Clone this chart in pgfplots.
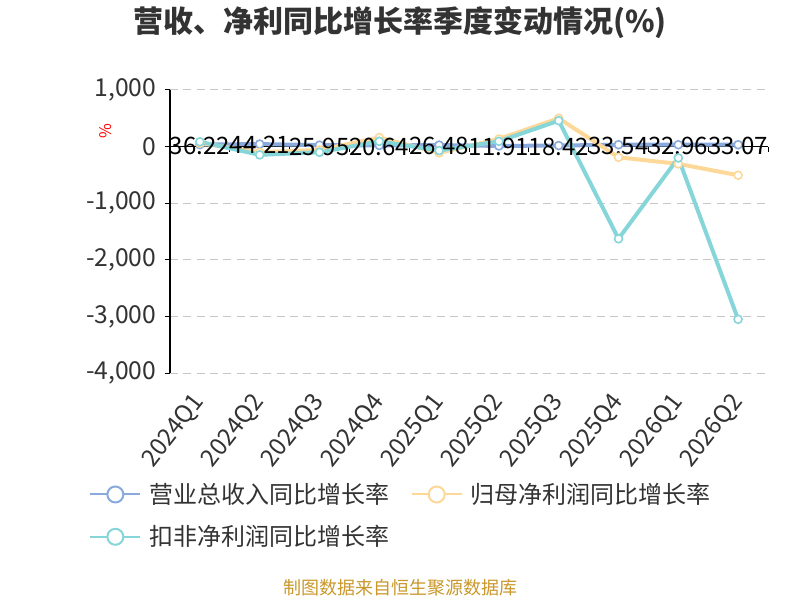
\documentclass[border=0pt]{standalone}
\usepackage{pgfplots}
\pgfplotsset{compat=1.18}
\usepackage{fontspec}
\setmainfont{Noto Sans CJK SC}
\definecolor{cblue}{HTML}{8AA9DC}
\definecolor{corange}{HTML}{FDD898}
\definecolor{cteal}{HTML}{86D5D9}
\definecolor{ctext}{HTML}{333333}
\definecolor{cfoot}{HTML}{C9972B}
\begin{document}
\begin{tikzpicture}
\useasboundingbox (0,0) rectangle (600pt,450pt);
\node[font=\fontsize{22.5}{22.5}\selectfont\bfseries, text=ctext] at (300pt,433pt) {营收、净利同比增长率季度变动情况(\%)};
\node[font=\fontsize{12}{12}\selectfont, text=red, rotate=90] at (79pt,352pt) {\%};
\node[font=\fontsize{13.5}{13.5}\selectfont, text=cfoot] at (300pt,9pt) {制图数据来自恒生聚源数据库};
\begin{axis}[
  at={(127.5pt,170.25pt)}, anchor=south west,
  scale only axis, width=448.5pt, height=212.25pt,
  xmin=-0.5, xmax=9.5, ymin=-4000, ymax=1000,
  axis y line*=left, axis x line*=bottom,
  x axis line style={draw=none},
  y axis line style={black, line width=0.75pt},
  xtick={0,...,9},
  xticklabels={2024Q1,2024Q2,2024Q3,2024Q4,2025Q1,2025Q2,2025Q3,2025Q4,2026Q1,2026Q2},
  major x tick style={draw=none},
  xticklabel style={xshift=0pt, yshift=-14.5pt, rotate=52, anchor=east, font=\fontsize{18}{18}\selectfont, text=ctext, inner sep=0pt},
  ytick={-4000,-3000,-2000,-1000,0,1000},
  yticklabel style={font=\fontsize{18.5}{18.5}\selectfont, text=ctext, xshift=-3pt},
  /pgf/number format/assume math mode=true,
  /pgf/number format/1000 sep={,},
  tick align=outside,
  major tick length=3.75pt,
  major y tick style={black, line width=0.75pt},
  ymajorgrids,
  grid style={color=black!22, line width=0.75pt, dash pattern=on 6pt off 4pt},
  clip=false,
  legend columns=2,
  legend style={at={(-0.142,-0.37)}, anchor=north west, draw=none, fill=none,
    font=\fontsize{18}{18}\selectfont, text=ctext,
    /tikz/every even column/.append style={column sep=14pt},
    /tikz/every odd column/.append style={column sep=4pt},
    row sep=11pt},
  legend cell align=left,
]
\draw[black, line width=0.75pt] (axis cs:-0.5,0) -- (axis cs:9.5,0);
\pgfplotsinvokeforeach{0.5,1.5,2.5,3.5,4.5,5.5,6.5,7.5,8.5,9.5}{
  \draw[black, line width=0.75pt] (axis cs:#1,0) -- ([yshift=-3.75pt]axis cs:#1,0);
}
\addplot[cblue, line width=3pt, mark=*, mark size=3pt, mark options={fill=white, line width=1.2pt},
  legend image code/.code={\draw[line width=1.5pt] (0pt,0pt) -- (37.5pt,0pt); \draw[line width=1.5pt, fill=white] (18.75pt,0pt) circle (6pt);},
  nodes near coords, point meta=explicit symbolic,
  every node near coord/.style={anchor=center, font=\fontsize{18}{18}\selectfont, text=black, yshift=-1pt}]
  table[meta=lab] {
x y lab
0 36.22 36.22
1 44.21 44.21
2 25.95 25.95
3 20.64 20.64
4 26.48 26.48
5 11.91 11.91
6 18.42 18.42
7 33.54 33.54
8 32.96 32.96
9 33.07 33.07
};
\addlegendentry{营业总收入同比增长率}
\addplot[corange, line width=3pt, mark=*, mark size=3pt, mark options={fill=white, line width=1.2pt},
  legend image code/.code={\draw[line width=1.5pt] (0pt,0pt) -- (37.5pt,0pt); \draw[line width=1.5pt, fill=white] (18.75pt,0pt) circle (6pt);}]
  coordinates {(0,60) (1,-100) (2,-60) (3,160) (4,-111) (5,135) (6,500) (7,-189) (8,-305) (9,-506)};
\addlegendentry{归母净利润同比增长率}
\addplot[cteal, line width=3pt, mark=*, mark size=3pt, mark options={fill=white, line width=1.2pt},
  legend image code/.code={\draw[line width=1.5pt] (0pt,0pt) -- (37.5pt,0pt); \draw[line width=1.5pt, fill=white] (18.75pt,0pt) circle (6pt);}]
  coordinates {(0,85) (1,-146) (2,-100) (3,93) (4,-70) (5,93) (6,458) (7,-1628) (8,-200) (9,-3051)};
\addlegendentry{扣非净利润同比增长率}
\end{axis}
\end{tikzpicture}
\end{document}
